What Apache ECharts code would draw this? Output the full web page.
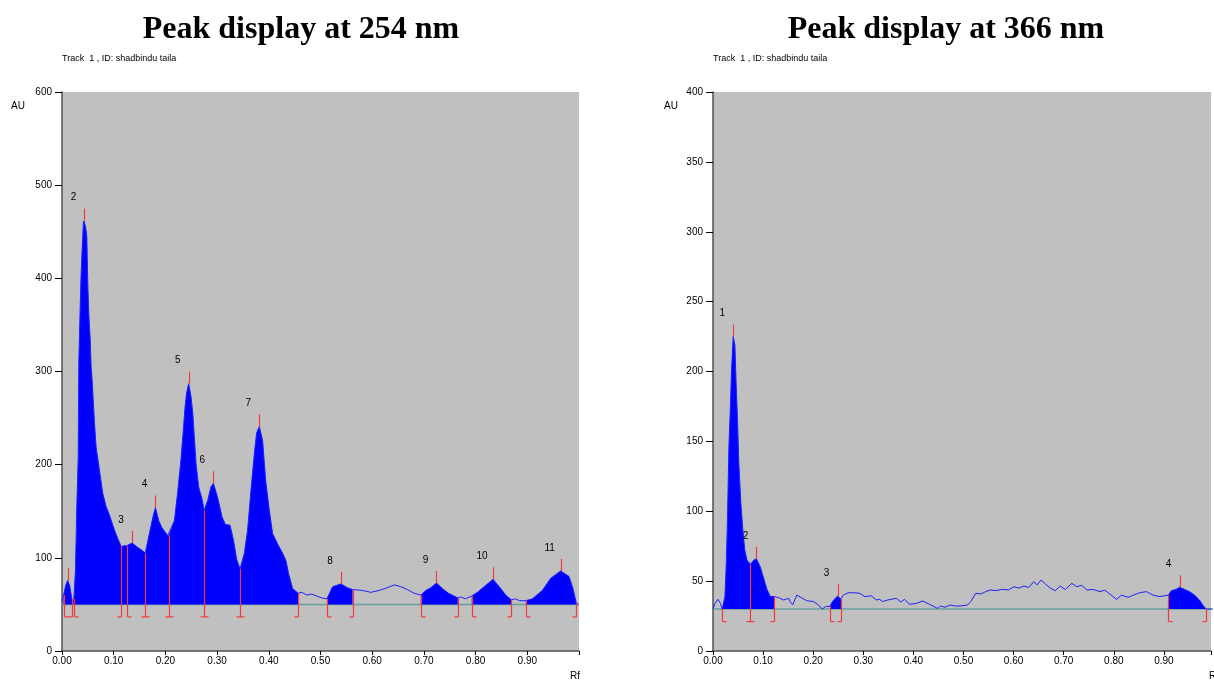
<!DOCTYPE html>
<html>
<head>
<meta charset="utf-8">
<title>Peak display</title>
<script src="https://cdn.jsdelivr.net/npm/echarts@6/dist/echarts.min.js"></script>
<style>
  html, body { margin: 0; padding: 0; background: #fff; }
  #chart { width: 1214px; height: 680px; }
</style>
</head>
<body>
<div id="chart"></div>
<script>
// ---- 254 nm track ----
const rf254 = [0, 0.003, 0.007, 0.011, 0.015, 0.019, 0.021, 0.023, 0.026, 0.0286, 0.0313, 0.0325, 0.035, 0.037, 0.039,
  0.0415, 0.0435, 0.0454, 0.048, 0.050, 0.052, 0.0545, 0.0564, 0.0583, 0.0628, 0.066, 0.0725, 0.0789, 0.0854, 0.0918,
  0.1014, 0.1085, 0.1147, 0.12, 0.125, 0.1356, 0.1447, 0.155, 0.161, 0.169, 0.176, 0.1807, 0.187, 0.1936, 0.2045,
  0.2064, 0.2174, 0.2238, 0.230, 0.235, 0.238, 0.241, 0.245, 0.2496, 0.253, 0.2593, 0.2644, 0.2705, 0.275, 0.282,
  0.288, 0.2928, 0.301, 0.3095, 0.3159, 0.325, 0.3317, 0.338, 0.3445, 0.3527, 0.359, 0.3656, 0.372, 0.3764, 0.3816,
  0.388, 0.394, 0.401, 0.4074, 0.417, 0.4267, 0.4332, 0.4383, 0.446, 0.457, 0.4638, 0.4735, 0.483, 0.4928, 0.502,
  0.5124, 0.5234, 0.5395, 0.552, 0.562, 0.581, 0.5975, 0.6135, 0.6296, 0.6425, 0.6554, 0.668, 0.681, 0.694, 0.7037,
  0.7134, 0.7243, 0.7359, 0.7475, 0.7585, 0.7656, 0.772, 0.78, 0.7926, 0.8035, 0.8164, 0.8338, 0.8486, 0.8583, 0.8692,
  0.877, 0.885, 0.897, 0.9098, 0.929, 0.9453, 0.9646, 0.9807, 0.9884, 0.995, 0.999];
const au254 = [53, 60, 70, 76, 70, 56, 53, 56, 87, 155, 207, 310, 366, 405, 432,
  461, 462, 456, 445, 392, 360, 335, 305, 291, 245, 219, 194, 169, 155, 146,
  130, 120, 112, 113, 113, 116, 112, 108, 105, 126, 144, 154, 140, 132, 124,
  124, 140, 171, 205, 240, 262, 277, 287, 273, 255, 201, 176, 164, 151, 162,
  176, 180, 165, 144, 136, 135, 119, 98, 88, 105, 130, 173, 212, 234, 241,
  226, 183, 151, 126, 115, 105, 97, 83, 67, 62, 63, 60, 61, 59, 57,
  56, 69, 72, 68, 66, 65, 63, 65, 68, 71, 69, 66, 62, 60, 65,
  68, 73, 67, 62, 59, 57, 58, 56, 59, 63, 69, 77, 67, 60, 55,
  56, 54, 54, 56, 65, 78, 86, 80, 67, 51, 50];
const base254 = 50;
const fillFrom254 = [0.003, 0.5124, 0.694, 0.7926, 0.897];
const fillTo254 = [0.457, 0.562, 0.7656, 0.8692, 0.995];
const peakRf254 = [0.011, 0.0435, 0.1356, 0.1807, 0.245, 0.2928, 0.3816, 0.5395, 0.7243, 0.8338, 0.9646];
const peakAu254 = [76, 462, 116, 154, 287, 180, 241, 72, 73, 77, 86];
const peakLabel254 = ['', '2', '3', '4', '5', '6', '7', '8', '9', '10', '11'];
// 0 = peak start, 1 = peak end, 2 = end of one peak and start of the next
const edgeRf254 = [0.003, 0.019, 0.023, 0.1147, 0.125, 0.161, 0.2064, 0.275, 0.3445, 0.457,
  0.5124, 0.562, 0.694, 0.7656, 0.7926, 0.8692, 0.897, 0.995];
const edgeKind254 = [0, 1, 0, 1, 0, 2, 2, 2, 2, 1, 0, 1, 0, 1, 0, 1, 0, 1];

// ---- 366 nm track ----
const rf366 = [0, 0.004, 0.0099, 0.015, 0.0185, 0.0238, 0.0265, 0.029, 0.0317, 0.0344, 0.037, 0.0403, 0.0437, 0.0463,
  0.049, 0.0516, 0.0556, 0.0595, 0.0635, 0.068, 0.0747, 0.0813, 0.0867, 0.0946, 0.1012, 0.1078, 0.1144, 0.1224, 0.132,
  0.141, 0.151, 0.154, 0.159, 0.1673, 0.177, 0.1872, 0.2004, 0.2103, 0.218, 0.2248, 0.2335, 0.2384, 0.2487, 0.2553,
  0.26, 0.27, 0.28, 0.293, 0.303, 0.316, 0.326, 0.332, 0.3386, 0.3486, 0.3658, 0.375, 0.3823, 0.3922, 0.4054, 0.4187,
  0.432, 0.4484, 0.4537, 0.4629, 0.473, 0.4828, 0.493, 0.508, 0.5146, 0.5245, 0.5344, 0.5443, 0.554, 0.564, 0.5774,
  0.590, 0.6005, 0.6105, 0.6204, 0.630, 0.6402, 0.6468, 0.6548, 0.6634, 0.6733, 0.6832, 0.693, 0.703, 0.7163, 0.7262,
  0.736, 0.746, 0.759, 0.7725, 0.782, 0.792, 0.8056, 0.8155, 0.8287, 0.839, 0.8519, 0.8651, 0.8783, 0.8915, 0.909,
  0.9147, 0.9246, 0.9312, 0.941, 0.951, 0.961, 0.9709, 0.9808, 0.985, 0.995];
const au366 = [30, 34, 37, 34, 30, 39, 63, 96, 146, 172, 201, 225, 219, 190,
  165, 134, 106, 87, 72, 65, 62, 65, 66, 60, 52, 44, 39, 39, 38,
  36.5, 37.7, 35.4, 33, 40, 38, 36, 35.4, 33, 30, 31.8, 32, 35.4, 39.4, 37,
  40, 41.7, 41.7, 41.3, 38.9, 39.5, 36.5, 37, 35.4, 36.5, 37.7, 35, 37, 33.4, 34, 35.8,
  33.4, 30.5, 32.2, 31.3, 32.9, 32.2, 32.2, 32.9, 35.4, 41.3, 40.8, 42.5, 43.7, 43.2, 44.1,
  43.7, 46, 45, 46.5, 45.5, 49.6, 47.3, 50.8, 48, 45, 43.2, 46.5, 44, 48.4, 46,
  47, 43.7, 44, 42.5, 43.5, 40.8, 37, 40, 38.4, 40, 41.7, 42.5, 40, 38.9, 40,
  43.2, 44.1, 45.6, 44.1, 42.5, 40, 36.5, 31.3, 30, 30];
const base366 = 30;
const fillFrom366 = [0.0185, 0.2335, 0.909];
const fillTo366 = [0.1224, 0.2553, 0.985];
const peakRf366 = [0.0403, 0.0867, 0.2487, 0.9312];
const peakAu366 = [225, 66, 39.4, 45.6];
const peakLabel366 = ['1', '2', '3', '4'];
const edgeRf366 = [0.0185, 0.0747, 0.1224, 0.2335, 0.2553, 0.909, 0.985];
const edgeKind366 = [0, 2, 1, 0, 1, 0, 1];

const red = '#f23a3a';
const blue = '#0000ff';
const sans = '"Liberation Sans", Arial, sans-serif';

const chart = echarts.init(document.getElementById('chart'));

function nearestAu(rf, au, x) {
  let best = 0;
  rf.forEach((r, i) => { if (Math.abs(r - x) < Math.abs(rf[best] - x)) best = i; });
  return au[best];
}

function trackSeries(g, rf, au, base, fillFrom, fillTo, peakRf, peakAu, labels, edgeRf, edgeKind) {
  return [
    {
      type: 'line', xAxisIndex: g, yAxisIndex: g, z: 1, silent: true,
      data: [[0, base], [1, base]], symbol: 'none',
      lineStyle: { color: '#64a09a', width: 1.5 }
    },
    {
      type: 'custom', xAxisIndex: g, yAxisIndex: g, z: 2, silent: true,
      data: fillFrom.map((f, i) => [f, base, fillTo[i]]),
      encode: { x: [0, 2], y: 1 },
      renderItem: (params, api) => {
        const from = api.value(0), to = api.value(2);
        const pts = [];
        rf.forEach((r, i) => {
          if (r >= from - 1e-9 && r <= to + 1e-9) pts.push(api.coord([r, au[i]]));
        });
        pts.push(api.coord([to, base]));
        pts.push(api.coord([from, base]));
        return { type: 'polygon', shape: { points: pts }, style: { fill: blue } };
      }
    },
    {
      type: 'line', xAxisIndex: g, yAxisIndex: g, z: 3, silent: true,
      data: rf.map((r, i) => [r, au[i]]), symbol: 'none',
      lineStyle: { color: '#2020ff', width: 1 }
    },
    {
      type: 'custom', xAxisIndex: g, yAxisIndex: g, z: 4, silent: true,
      data: edgeRf.map((r, i) => [r, nearestAu(rf, au, r), edgeKind[i]]),
      encode: { x: 0, y: 1 },
      renderItem: (params, api) => {
        const p = api.coord([api.value(0), api.value(1)]);
        const b = api.coord([api.value(0), base]);
        const kind = api.value(2);
        const footY = b[1] + 12.5;
        const x = Math.round(p[0]) + 0.5;
        return {
          type: 'group',
          children: [
            { type: 'line', shape: { x1: x, y1: p[1], x2: x, y2: footY }, style: { stroke: red, lineWidth: 1.2 } },
            {
              type: 'line',
              shape: { x1: kind === 0 ? x : x - 4, y1: footY, x2: kind === 1 ? x : x + 4, y2: footY },
              style: { stroke: red, lineWidth: 1.2 }
            }
          ]
        };
      }
    },
    {
      type: 'custom', xAxisIndex: g, yAxisIndex: g, z: 4, silent: true,
      data: peakRf.map((r, i) => [r, peakAu[i], i]),
      encode: { x: 0, y: 1 },
      renderItem: (params, api) => {
        const p = api.coord([api.value(0), api.value(1)]);
        const x = Math.round(p[0]) + 0.5;
        return {
          type: 'group',
          children: [
            { type: 'line', shape: { x1: x, y1: p[1], x2: x, y2: p[1] - 12 }, style: { stroke: red, lineWidth: 1.2 } },
            {
              type: 'text', x: p[0] - 11, y: p[1] - 23,
              style: {
                text: labels[api.value(2)], fill: '#000', font: '10px ' + sans,
                align: 'center', verticalAlign: 'middle', textAlign: 'center', textVerticalAlign: 'middle'
              }
            }
          ]
        };
      }
    }
  ];
}

const axisLine = { show: true, lineStyle: { color: '#505050', width: 1.5 } };
const labelStyle = { color: '#000', fontSize: 10, fontFamily: sans };

function xAxisFor(g, max) {
  return {
    type: 'value', gridIndex: g, min: 0, max: max, interval: 0.1,
    axisLine: axisLine,
    axisTick: { show: true, length: 4, lineStyle: { color: '#000' } },
    splitLine: { show: false },
    axisLabel: Object.assign({ margin: 5, formatter: v => (v > 0.95 ? '' : v.toFixed(2)) }, labelStyle)
  };
}

function yAxisFor(g, max, step) {
  return {
    type: 'value', gridIndex: g, min: 0, max: max, interval: step,
    axisLine: axisLine,
    axisTick: { show: true, length: 7, lineStyle: { color: '#000' } },
    splitLine: { show: false },
    axisLabel: Object.assign({ margin: 10 }, labelStyle)
  };
}

function txt(text, x, y, font, align) {
  return {
    type: 'text', x: x, y: y, silent: true,
    style: {
      text: text, font: font, fill: '#000',
      align: align, verticalAlign: 'middle', textAlign: align, textVerticalAlign: 'middle'
    }
  };
}

const titleFont = 'bold 32px "Liberation Serif", "Times New Roman", serif';
const smallFont = '9px "Liberation Sans Narrow", "Liberation Sans", Arial, sans-serif';

// the 366 nm plot runs off the right edge of the page, so its axis stops short of 1.00
const option = {
  animation: false,
  backgroundColor: '#fff',
  grid: [
    { left: 62, top: 92, width: 517, height: 559, show: true, backgroundColor: '#c0c0c0', borderWidth: 0 },
    { left: 713, top: 92, right: 0, height: 559, show: true, backgroundColor: '#c0c0c0', borderWidth: 0 }
  ],
  xAxis: [xAxisFor(0, 1), xAxisFor(1, 0.994)],
  yAxis: [yAxisFor(0, 600, 100), yAxisFor(1, 400, 50)],
  graphic: [
    txt('Peak display at 254 nm', 301, 30, titleFont, 'center'),
    txt('Peak display at 366 nm', 946, 30, titleFont, 'center'),
    txt('Track  1 , ID: shadbindu taila', 62, 59, smallFont, 'left'),
    txt('Track  1 , ID: shadbindu taila', 713, 59, smallFont, 'left'),
    txt('AU', 18, 106, '10px ' + sans, 'center'),
    txt('AU', 671, 106, '10px ' + sans, 'center'),
    txt('Rf', 580, 676, '10px ' + sans, 'right'),
    txt('Rf', 1219, 676, '10px ' + sans, 'right')
  ],
  series: [].concat(
    trackSeries(0, rf254, au254, base254, fillFrom254, fillTo254, peakRf254, peakAu254, peakLabel254, edgeRf254, edgeKind254),
    trackSeries(1, rf366, au366, base366, fillFrom366, fillTo366, peakRf366, peakAu366, peakLabel366, edgeRf366, edgeKind366)
  )
};

chart.setOption(option);
</script>
</body>
</html>
